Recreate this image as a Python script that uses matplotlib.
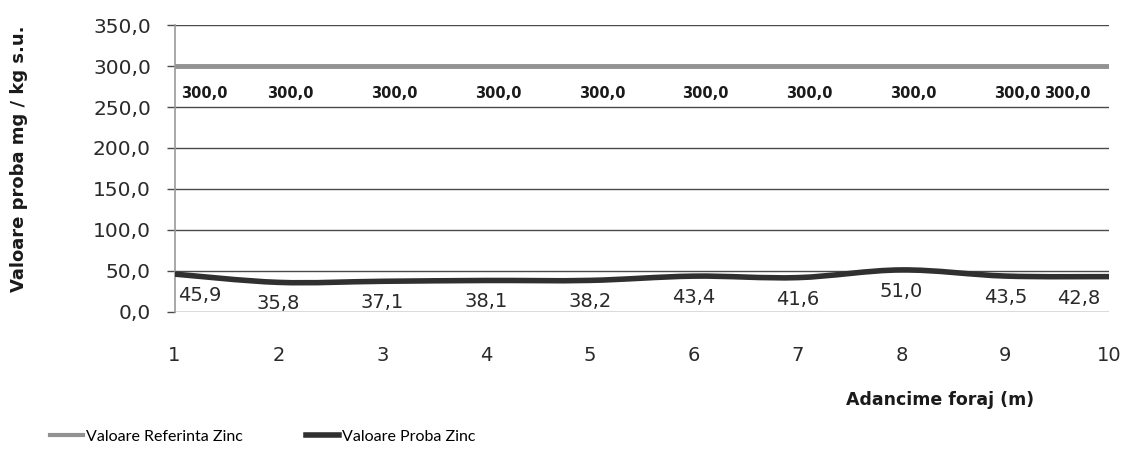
import matplotlib
matplotlib.use("Agg")
import matplotlib.pyplot as plt
from matplotlib.path import Path
from matplotlib.patches import PathPatch
from matplotlib.lines import Line2D
from matplotlib import font_manager
import numpy as np

depth = [1, 2, 3, 4, 5, 6, 7, 8, 9, 10]
referinta_zinc = [300.0] * 10
proba_zinc = [45.9, 35.8, 37.1, 38.1, 38.2, 43.4, 41.6, 51.0, 43.5, 42.8]
y_ticks = [0, 50, 100, 150, 200, 250, 300, 350]

def fmt(v):
    return f"{v:.1f}".replace(".", ",")

names = {f.name for f in font_manager.fontManager.ttflist}
legend_family = "Liberation Sans Narrow" if "Liberation Sans Narrow" in names else "Lato"
legend_size = 13 if legend_family == "Liberation Sans Narrow" else 11.5

fig = plt.figure(figsize=(11.26, 4.57), dpi=100)
ax = fig.add_axes([0.155, 0.318, 0.83, 0.627])

for v in y_ticks:
    ax.axhline(v, color="#4a4a4a", lw=1.0, zorder=1)

ax.plot(depth, referinta_zinc, color="#929292", lw=3.5, zorder=2)

# smooth (Excel-like) line via cubic Bezier segments
xs = np.array(depth, float)
ys = np.array(proba_zinc, float)
verts = [(xs[0], ys[0])]
codes = [Path.MOVETO]
n = len(xs)
for i in range(n - 1):
    p0 = (xs[max(i - 1, 0)], ys[max(i - 1, 0)])
    p1 = (xs[i], ys[i])
    p2 = (xs[i + 1], ys[i + 1])
    p3 = (xs[min(i + 2, n - 1)], ys[min(i + 2, n - 1)])
    c1 = (p1[0] + (p2[0] - p0[0]) / 6, p1[1] + (p2[1] - p0[1]) / 6)
    c2 = (p2[0] - (p3[0] - p1[0]) / 6, p2[1] - (p3[1] - p1[1]) / 6)
    verts += [c1, c2, p2]
    codes += [Path.CURVE4] * 3
ax.add_patch(PathPatch(Path(verts, codes), facecolor="none", edgecolor="#303030",
                       lw=4, zorder=3, capstyle="round"))

for i, (x, v) in enumerate(zip(depth, referinta_zinc)):
    dx = 30 if i == 0 else (-42 if i == n - 1 else 12)
    ax.annotate(fmt(v), (x, v), xytext=(dx, -20), textcoords="offset pixels",
                ha="center", va="top", fontsize=10.5, fontweight="bold",
                color="#1a1a1a")

for i, (x, v) in enumerate(zip(depth, proba_zinc)):
    dx = 25 if i == 0 else (-30 if i == n - 1 else 0)
    ax.annotate(fmt(v), (x, v), xytext=(dx, -12), textcoords="offset pixels",
                ha="center", va="top", fontsize=14, color="#2a2a2a")

ax.set_xlim(1, 10)
ax.set_ylim(0, 350)
ax.set_yticks(y_ticks)
ax.set_yticklabels([fmt(v) for v in y_ticks], fontsize=14.5, color="#2a2a2a")
ax.set_xticks(depth)
ax.set_xticklabels([str(d) for d in depth], fontsize=14, color="#2a2a2a")
ax.tick_params(axis="y", length=6, width=1, color="#4a4a4a", pad=11)
ax.tick_params(axis="x", length=0, pad=25)
for s in ["top", "right", "bottom"]:
    ax.spines[s].set_visible(False)
ax.spines["left"].set_color("#9a9a9a")
ax.spines["left"].set_linewidth(1.2)

fig.text(0.009, 0.652, "Valoare proba mg / kg s.u.", rotation=90, ha="left", va="center",
         fontsize=13, fontweight="bold", color="#1a1a1a")
fig.text(0.835, 0.125, "Adancime foraj (m)", ha="center", va="center",
         fontsize=12.5, fontweight="bold", color="#1a1a1a")

handles = [Line2D([], [], color="#929292", lw=3),
           Line2D([], [], color="#303030", lw=4)]
fig.legend(handles, ["Valoare Referinta Zinc", "Valoare Proba Zinc"],
           loc="center left", bbox_to_anchor=(0.0444, 0.044), ncol=2, frameon=False,
           borderpad=0, borderaxespad=0,
           handlelength=33 / (legend_size * 100 / 72), handletextpad=0.2,
           columnspacing=63 / (legend_size * 100 / 72),
           prop={"family": legend_family, "size": legend_size})

fig.savefig("out.png", dpi=100, facecolor="white")
